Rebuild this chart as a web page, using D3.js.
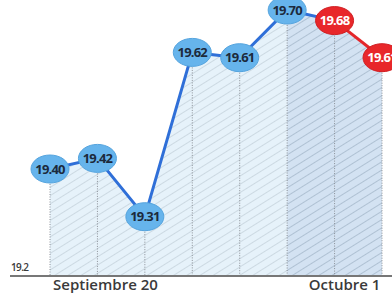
<!DOCTYPE html>
<html>
<head>
<meta charset="utf-8">
<script src="https://cdn.jsdelivr.net/npm/d3@7"></script>
<style>
  html, body { margin: 0; padding: 0; background: #fff; }
  svg { display: block; }
  .lbl { font-family: "Open Sans", sans-serif; font-weight: 700; font-size: 13px; letter-spacing: -0.8px; }
  .axis-text { font-family: "Open Sans", sans-serif; font-weight: 600; font-size: 15px; letter-spacing: 0px; fill: #3a3a3a; }
</style>
</head>
<body>
<svg id="chart" width="392" height="293"></svg>
<script>
var days = ['18', '20', '21', '24', '25', '26', '1', '2'];
var values = [19.40, 19.42, 19.31, 19.62, 19.61, 19.70, 19.68, 19.61];
var labels = ['19.40', '19.42', '19.31', '19.62', '19.61', '19.70', '19.68', '19.61'];
var isForecast = [false, false, false, false, false, false, true, true];
var tickLabels = [{ i: 1, text: 'Septiembre 20', dx: 8 }, { i: 6, text: 'Octubre 1', dx: 10 }];
var baseValue = 19.2;

var svg = d3.select('#chart');
var x = d3.scalePoint().domain(d3.range(values.length)).range([50, 382]);
var y = d3.scaleLinear().domain([19.2, 19.7]).range([275, 10]);

var defs = svg.append('defs');
function hatch(id, bg, stroke) {
  var p = defs.append('pattern')
    .attr('id', id)
    .attr('patternUnits', 'userSpaceOnUse')
    .attr('width', 7).attr('height', 7)
    .attr('patternTransform', 'rotate(-32)');
  p.append('rect').attr('width', 7).attr('height', 7).attr('fill', bg);
  p.append('line').attr('x1', 0).attr('y1', 3.5).attr('x2', 7).attr('y2', 3.5)
    .attr('stroke', stroke).attr('stroke-width', 1);
}
hatch('hLight', '#e6f2fa', '#ccd9e2');
hatch('hDark', '#d3e2f2', '#afc1d3');

var area = d3.area()
  .x(function (d) { return x(d.i); })
  .y0(y(baseValue))
  .y1(function (d) { return y(d.v); });

var pts = values.map(function (v, i) { return { i: i, v: v }; });

svg.append('path').datum(pts.slice(0, 6)).attr('d', area).attr('fill', 'url(#hLight)');
svg.append('path').datum(pts.slice(5)).attr('d', area).attr('fill', 'url(#hDark)');

// dotted verticals
svg.selectAll('.vline').data(pts).enter().append('line')
  .attr('x1', function (d) { return x(d.i); })
  .attr('x2', function (d) { return x(d.i); })
  .attr('y1', function (d) { return y(d.v); })
  .attr('y2', y(baseValue))
  .attr('stroke', '#8a8f96').attr('stroke-width', 1).attr('stroke-dasharray', '1,1.5');

// axis line
svg.append('line').attr('x1', 10).attr('x2', 392)
  .attr('y1', y(baseValue) + 1).attr('y2', y(baseValue) + 1)
  .attr('stroke', '#4a4a4a').attr('stroke-width', 1.6);

svg.append('text').attr('class', 'axis-text')
  .attr('x', 11).attr('y', y(baseValue) - 4)
  .style('font-size', '10px').style('font-weight', '600').style('letter-spacing', '-0.6px')
  .text('19.2');

svg.selectAll('.tick-lbl').data(tickLabels).enter().append('text')
  .attr('class', 'axis-text')
  .attr('x', function (d) { return x(d.i) + d.dx; })
  .attr('y', 290)
  .attr('text-anchor', 'middle')
  .text(function (d) { return d.text; });

// line segments
var line = d3.line().x(function (d) { return x(d.i); }).y(function (d) { return y(d.v); });
svg.append('path').datum(pts.slice(0, 7)).attr('d', line)
  .attr('fill', 'none').attr('stroke', '#2f6fd8').attr('stroke-width', 3);
svg.append('path').datum(pts.slice(6)).attr('d', line)
  .attr('fill', 'none').attr('stroke', '#e4272b').attr('stroke-width', 3);

// markers
var g = svg.selectAll('.pt').data(pts).enter().append('g')
  .attr('transform', function (d) { return 'translate(' + x(d.i) + ',' + y(d.v) + ')'; });
g.append('ellipse').attr('rx', 19).attr('ry', 14)
  .attr('fill', function (d) { return isForecast[d.i] ? '#e8272a' : '#66b4ec'; })
  .attr('stroke', function (d) { return isForecast[d.i] ? '#d01e22' : '#55a4de'; })
  .attr('stroke-width', 1);
g.append('text').attr('class', 'lbl')
  .attr('text-anchor', 'middle').attr('dy', '0.36em')
  .attr('fill', function (d) { return isForecast[d.i] ? '#fff' : '#1c2a3c'; })
  .text(function (d) { return labels[d.i]; });
</script>
</body>
</html>
